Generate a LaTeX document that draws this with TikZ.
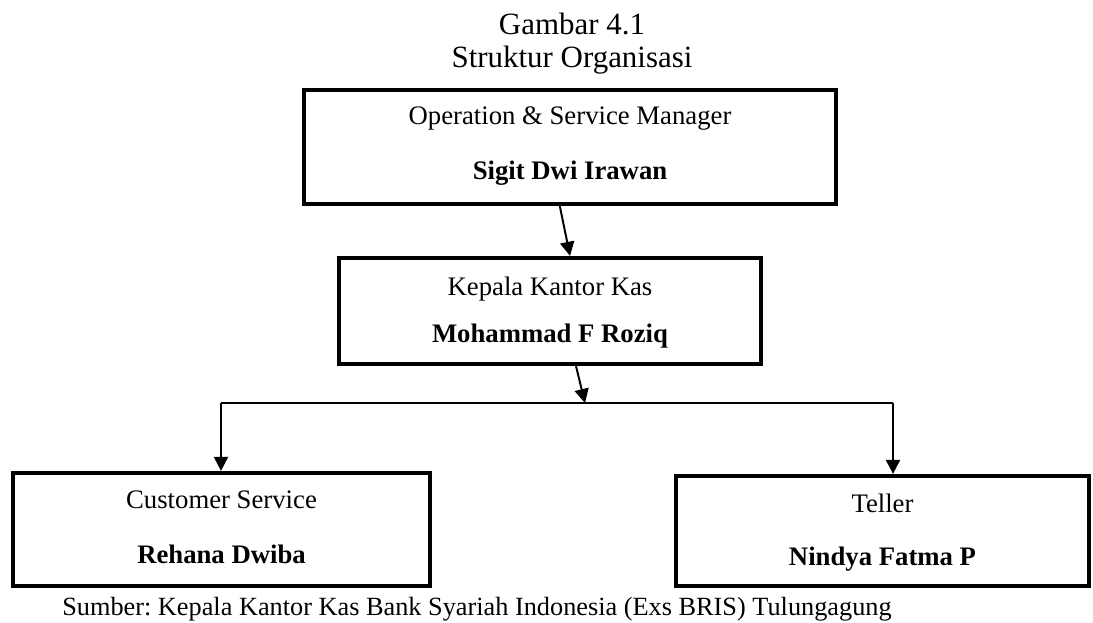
\documentclass[tikz,border=0pt]{standalone}
\usepackage{fontspec}
\setmainfont{Liberation Serif}
\usetikzlibrary{arrows.meta,calc}
\frenchspacing

\tikzset{
  orgbox/.style={draw,line width=3pt,inner sep=0pt},
  jabatan/.style={anchor=base,inner sep=0pt,font=\fontsize{19}{22}\selectfont},
  nama/.style={jabatan,font=\fontsize{19}{22}\selectfont\bfseries},
  link/.style={line width=1.4pt,-{Triangle[width=10pt,length=10pt]}},
  bus/.style={line width=0.9pt}
}

\begin{document}
\begin{tikzpicture}[x=0.025cm,y=-0.025cm]
  \useasboundingbox (0,0) rectangle (1093,623);
  % judul
  \node[anchor=base,font=\fontsize{22}{26}\selectfont] (judul) at (572,35) {Gambar 4.1};
  \node[anchor=base,font=\fontsize{22}{26}\selectfont] (sub) at (572,68) {Struktur Organisasi};
  % kotak jabatan
  \node[orgbox,minimum width=532*0.025cm,minimum height=114*0.025cm] (osm) at (570,147) {};
  \node[jabatan] (osmjab) at (570,125) {Operation \& Service Manager};
  \node[nama] (osmnama) at (570,180) {Sigit Dwi Irawan};
  \node[orgbox,minimum width=422*0.025cm,minimum height=106*0.025cm] (kkk) at (550,311) {};
  \node[jabatan] (kkkjab) at (550,295) {Kepala Kantor Kas};
  \node[nama] (kkknama) at (550,342) {Mohammad F Roziq};
  \node[orgbox,minimum width=417*0.025cm,minimum height=113*0.025cm] (cs) at (221.5,529.5) {};
  \node[jabatan] (csjab) at (221.5,508) {Customer Service};
  \node[nama] (csnama) at (221.5,563) {Rehana Dwiba};
  \node[orgbox,minimum width=413*0.025cm,minimum height=110*0.025cm] (tel) at (882.5,531) {};
  \node[jabatan] (teljab) at (882.5,512) {Teller};
  \node[nama] (telnama) at (882.5,565) {Nindya Fatma P};
  % garis penghubung
  \coordinate (busL) at (221,403);
  \coordinate (busM) at (585,403);
  \coordinate (busR) at (893,403);
  \draw[bus] (busL) -- (busR);
  \draw[link] ($(osm.south west)!0.481!(osm.south east)$) -- ($(kkk.north west)!0.547!(kkk.north east)$);
  \draw[link] ($(kkk.south west)!0.561!(kkk.south east)$) -- (busM);
  \draw[link] (busL) -- (busL |- cs.north);
  \draw[link] (busR) -- (busR |- tel.north);
  % sumber
  \node[anchor=base west,inner sep=0pt,font=\fontsize{18.7}{22}\selectfont] (sumber) at (62,615)
    {Sumber: Kepala Kantor Kas Bank Syariah Indonesia (Exs BRIS) Tulungagung};
\end{tikzpicture}
\end{document}
